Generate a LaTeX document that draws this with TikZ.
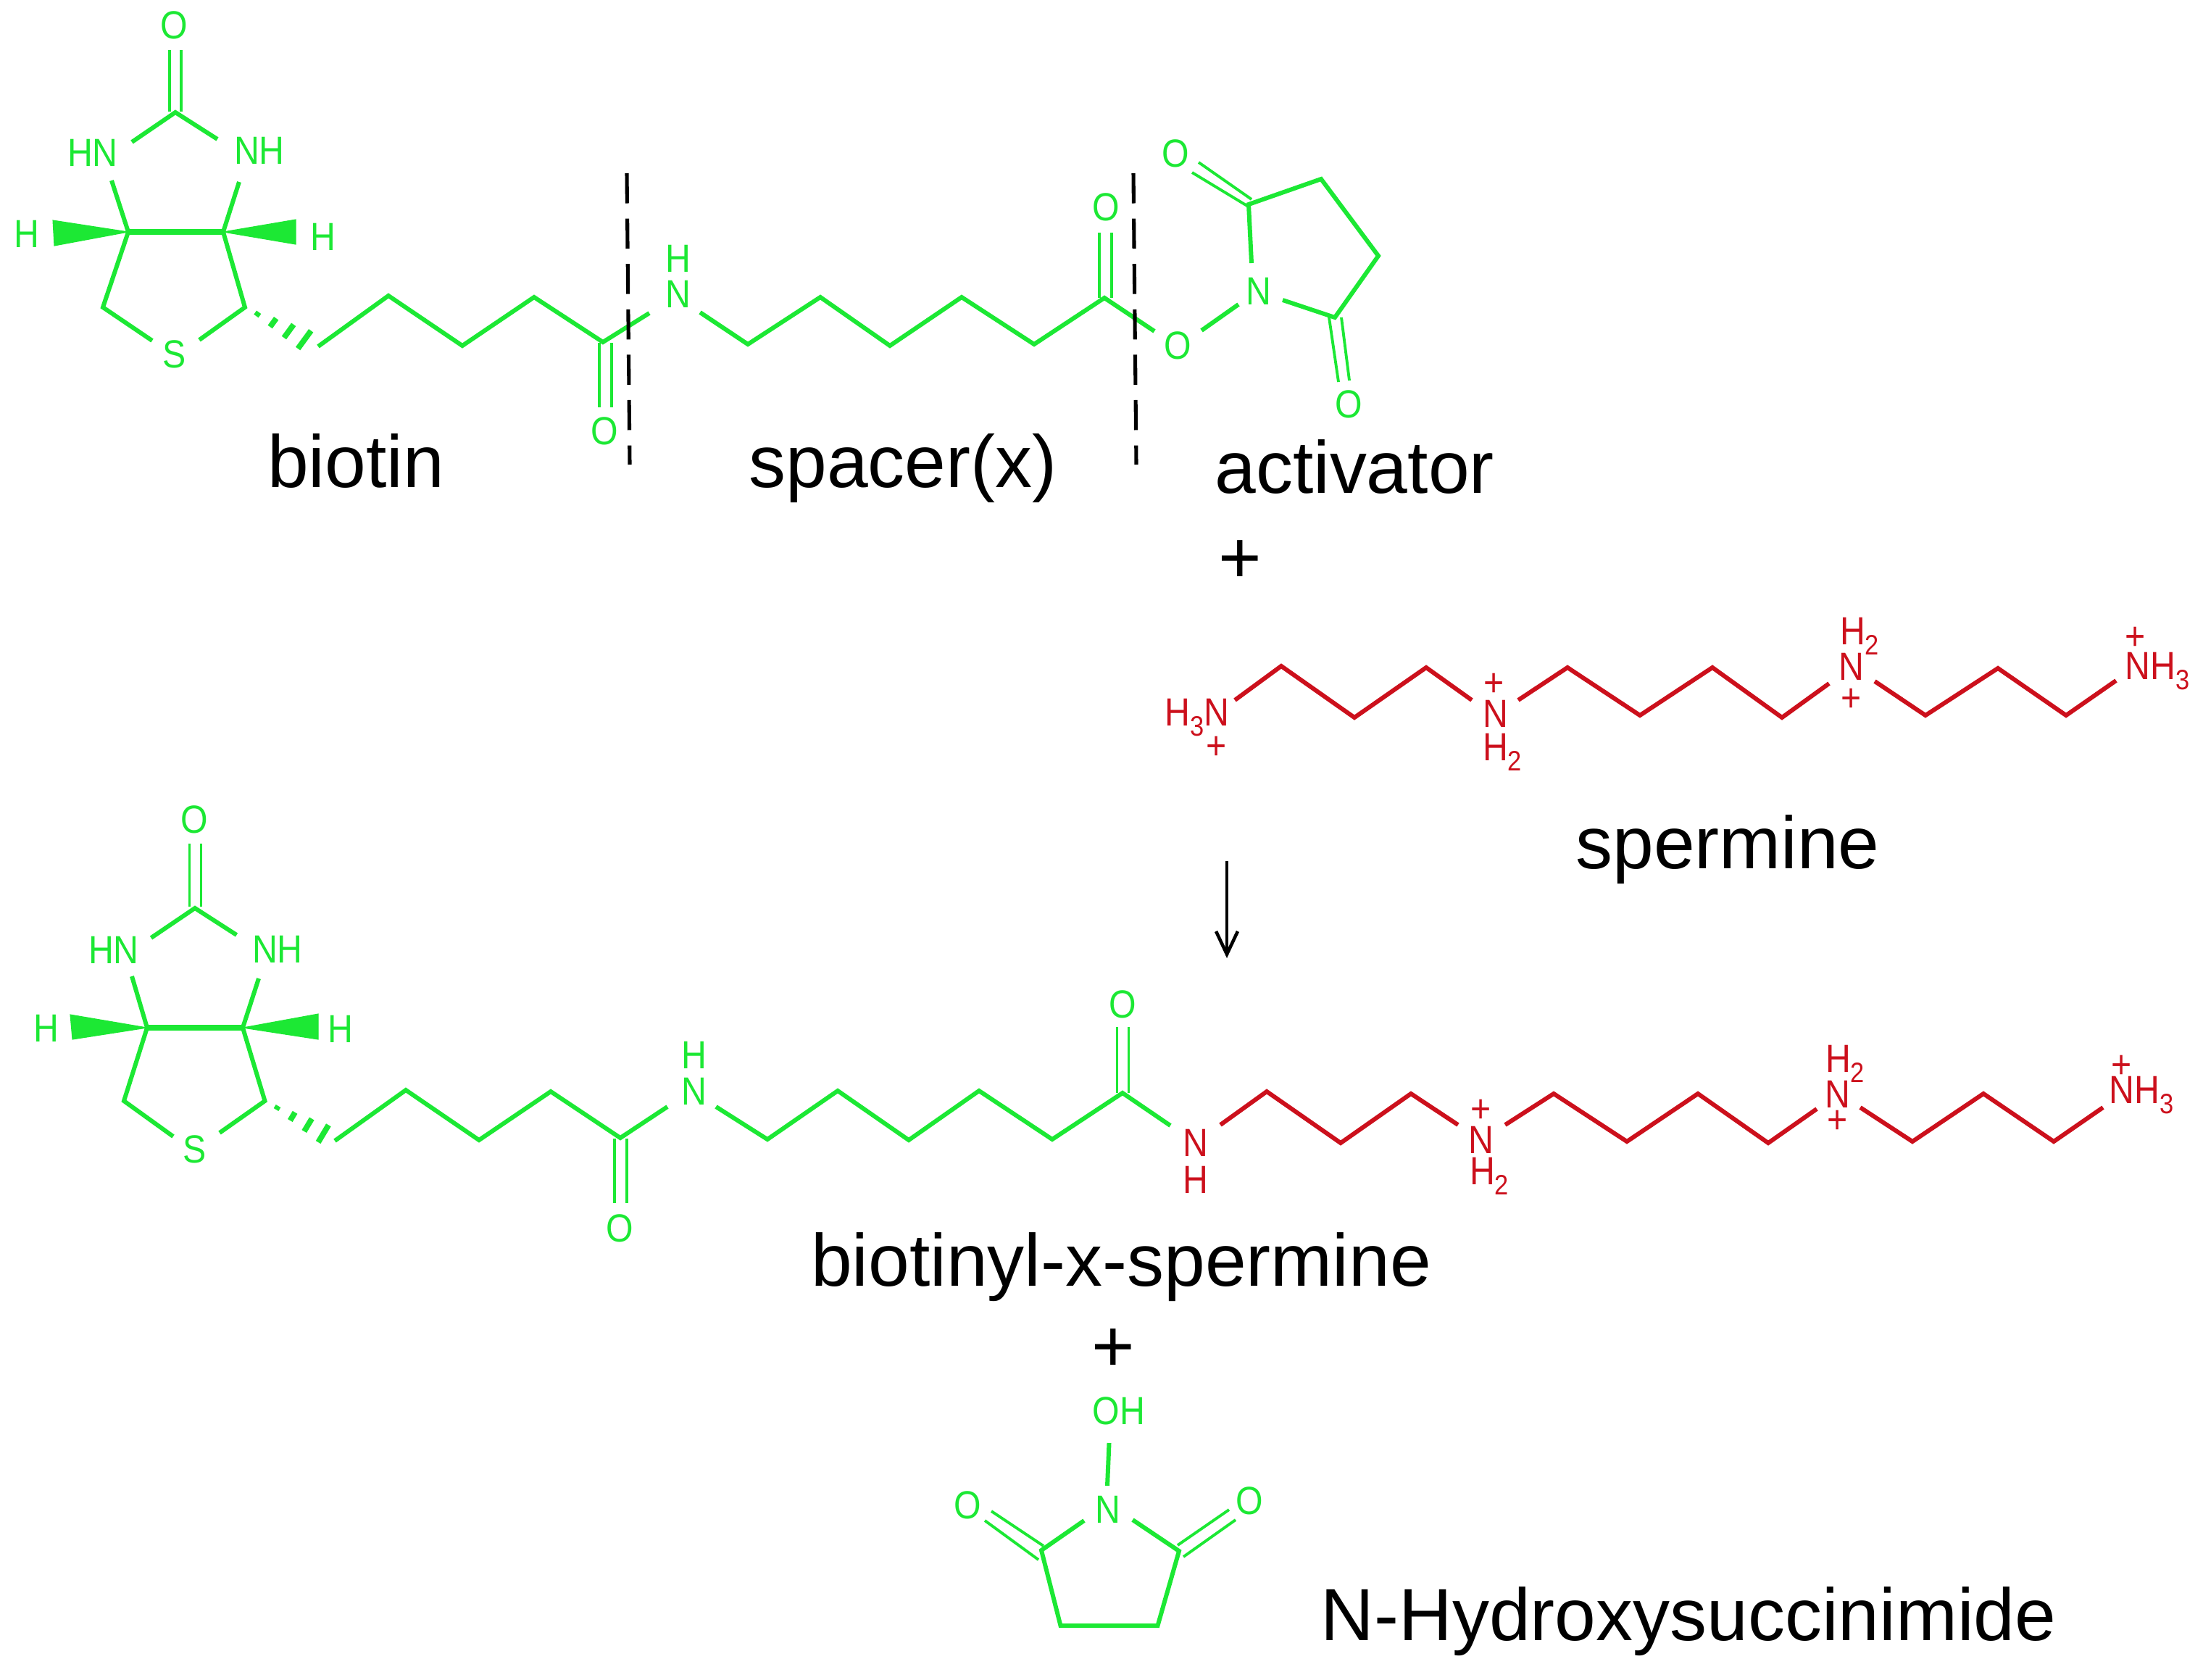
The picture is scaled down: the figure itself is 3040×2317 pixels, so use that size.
\documentclass[tikz,border=0pt]{standalone}
\usepackage{fontspec}
\setmainfont{Liberation Sans}
\usetikzlibrary{calc,arrows.meta}
\definecolor{grn}{RGB}{28,232,52}
\definecolor{rd}{RGB}{204,16,28}
\newcommand{\subn}[1]{\raisebox{-0.25em}{\fontsize{10}{10}\selectfont #1}}
\tikzset{
  x=0.01cm,y=-0.01cm,
  bond/.style={line width=1.7pt,line join=miter,draw=grn},
  dbl/.style={line width=1.1pt,draw=grn},
  fuse/.style={line width=2.2pt,draw=grn},
  rbond/.style={line width=1.7pt,line join=miter,draw=rd},
  wedgefill/.style={fill=grn,draw=grn,line width=0.3pt},
  hashbar/.style={line width=2.2pt,draw=grn},
  atom/.style={inner sep=0pt,transform shape,xscale=0.98,yscale=1.1,font=\fontsize{14}{14}\selectfont,text=grn},
  ratom/.style={inner sep=0pt,transform shape,xscale=0.98,yscale=1.1,font=\fontsize{14}{14}\selectfont,text=rd},
  captext/.style={inner sep=0pt,anchor=base,font=\fontsize{29}{30}\selectfont,text=black},
  plustext/.style={inner sep=0pt,font=\fontsize{29}{30}\selectfont,text=black},
  cutline/.style={line width=1.45pt,draw=black,dash pattern=on 11.8pt off 6pt},
  rxnarrow/.style={line width=1.3pt,draw=black,-{Straight Barb[length=9pt,width=8.5pt,line width=1.3pt]}}
}
\begin{document}
\begin{tikzpicture}
\useasboundingbox (0,0) rectangle (3040,2317);
% ---------- activated biotin-X: atoms
\coordinate (aC2) at (242,155);
\coordinate (aOa) at (234,69); \coordinate (aOb) at (250,69);
\coordinate (aCa) at (234,154); \coordinate (aCb) at (250,154);
\coordinate (aN1) at (182,196); \coordinate (aN2) at (300,192);
\coordinate (aN1b) at (154,249); \coordinate (aN2b) at (330,251);
\coordinate (aC4) at (177,320); \coordinate (aC5) at (308,320);
\coordinate (aC6) at (142,424); \coordinate (aC7) at (338,424);
\coordinate (aS1) at (210,470); \coordinate (aS2) at (275,469);
\coordinate (aW1) at (73,304); \coordinate (aW2) at (75,339);
\coordinate (aW3) at (408,303); \coordinate (aW4) at (408,337);
\coordinate (aH1) at (434,458); \coordinate (aH2) at (415,484);
\coordinate (ac1) at (439,478); \coordinate (ac2) at (536,408);
\coordinate (ac3) at (638,477); \coordinate (ac4) at (737,410);
\coordinate (ac5) at (832,472); \coordinate (ac6) at (896,432);
\coordinate (aO1a) at (827,473); \coordinate (aO1b) at (827,562);
\coordinate (aO1c) at (844,473); \coordinate (aO1d) at (844,562);
\coordinate (as0) at (966,431); \coordinate (as1) at (1032,475);
\coordinate (as2) at (1132,410); \coordinate (as3) at (1228,477);
\coordinate (as4) at (1327,410); \coordinate (as5) at (1427,475);
\coordinate (as6) at (1524,411); \coordinate (as7) at (1593,457);
\coordinate (aO2a) at (1517,411); \coordinate (aO2b) at (1517,321);
\coordinate (aO2c) at (1534,411); \coordinate (aO2d) at (1534,321);
\coordinate (nO1) at (1658,456); \coordinate (nO2) at (1709,420);
\coordinate (nN1) at (1727,363); \coordinate (nC1) at (1723,282);
\coordinate (nC2) at (1823,247); \coordinate (nC3) at (1902,353);
\coordinate (nC4) at (1842,438); \coordinate (nN2) at (1770,414);
\coordinate (nO3) at (1654,224); \coordinate (nO4) at (1727,275);
\coordinate (nO5) at (1645,238); \coordinate (nO6) at (1721,284);
\coordinate (nO7) at (1834,438); \coordinate (nO8) at (1847,527);
\coordinate (nO9) at (1851,438); \coordinate (nO10) at (1862,525);
% bonds
\draw[dbl] (aOa) -- (aCa); \draw[dbl] (aOb) -- (aCb);
\draw[bond] (aN1) -- (aC2) -- (aN2);
\draw[bond] (aN1b) -- (aC4) -- (aC6) -- (aS1);
\draw[bond] (aN2b) -- (aC5) -- (aC7) -- (aS2);
\draw[fuse] (aC4) -- (aC5);
\fill[wedgefill] (aC4) -- (aW1) -- (aW2) -- cycle;
\fill[wedgefill] (aC5) -- (aW3) -- (aW4) -- cycle;
\foreach \t in {0.2,0.45,0.7,0.95}
  \draw[hashbar] ($(aC7)!\t!(aH1)$) -- ($(aC7)!\t!(aH2)$);
\draw[bond] (ac1) -- (ac2) -- (ac3) -- (ac4) -- (ac5) -- (ac6);
\draw[dbl] (aO1a) -- (aO1b); \draw[dbl] (aO1c) -- (aO1d);
\draw[bond] (as0) -- (as1) -- (as2) -- (as3) -- (as4) -- (as5) -- (as6) -- (as7);
\draw[dbl] (aO2a) -- (aO2b); \draw[dbl] (aO2c) -- (aO2d);
\draw[bond] (nO1) -- (nO2);
\draw[bond] (nN1) -- (nC1) -- (nC2) -- (nC3) -- (nC4) -- (nN2);
\draw[dbl] (nO3) -- (nO4); \draw[dbl] (nO5) -- (nO6);
\draw[dbl] (nO7) -- (nO8); \draw[dbl] (nO9) -- (nO10);
% labels
\node[atom] (lO1) at (240,35) {O};
\node[atom] (lHN) at (128,211) {HN};
\node[atom] (lNH) at (358,208) {NH};
\node[atom] (lH1) at (37,323) {H};
\node[atom] (lH2) at (446,327) {H};
\node[atom] (lS) at (241,489) {S};
\node[atom] (lO2) at (834,595) {O};
\node[atom] (lN) at (936,406) {N};
\node[atom] (lNH2) at (936,357) {H};
\node[atom] (lO3) at (1526,286) {O};
\node[atom] (lO4) at (1625,477) {O};
\node[atom] (lN2) at (1737,402) {N};
\node[atom] (lO5) at (1622,212) {O};
\node[atom] (lO6) at (1861,558) {O};
% cut lines
\coordinate (cut1a) at (865,239); \coordinate (cut1b) at (869,641);
\coordinate (cut2a) at (1564,239); \coordinate (cut2b) at (1568,641);
\draw[cutline] (cut1a) -- (cut1b);
\draw[cutline] (cut2a) -- (cut2b);
% captions
\node[captext] (tbiotin) at (491,672) {biotin};
\node[captext] (tspacer) at (1246,672) {spacer(x)};
\node[captext] (tactiv) at (1869,680) {activator};
\node[plustext] (plus1) at (1711,775) {+};
% ---------- spermine
\coordinate (sa) at (1704,966); \coordinate (sb) at (1768,919);
\coordinate (sc) at (1869,990); \coordinate (sd) at (1968,921);
\coordinate (se) at (2031,966); \coordinate (sf) at (2095,966);
\coordinate (sg) at (2163,921); \coordinate (sh) at (2263,987);
\coordinate (si) at (2363,921); \coordinate (sj) at (2459,990);
\coordinate (sk) at (2524,943); \coordinate (sl) at (2587,940);
\coordinate (sm) at (2657,987); \coordinate (sn) at (2757,922);
\coordinate (so) at (2851,987); \coordinate (sp) at (2920,939);
\draw[rbond] (sa) -- (sb) -- (sc) -- (sd) -- (se);
\draw[rbond] (sf) -- (sg) -- (sh) -- (si) -- (sj) -- (sk);
\draw[rbond] (sl) -- (sm) -- (sn) -- (so) -- (sp);
\node[ratom] (rH3N) at (1652,990) {H\subn{3}N};
\node[ratom] (rp1) at (1679,1032) {+};
\node[ratom] (rp2) at (2062,945) {+};
\node[ratom] (rN2) at (2064,985) {N};
\node[ratom] (rH2) at (2073,1038) {H\subn{2}};
\node[ratom] (rH3) at (2566,878) {H\subn{2}};
\node[ratom] (rN3) at (2555,920) {N};
\node[ratom] (rp3) at (2555,966) {+};
\node[ratom] (rp4) at (2947,881) {+};
\node[ratom] (rNH3) at (2977,926) {NH\subn{3}};
\node[captext] (tsperm) at (2384,1198) {spermine};
% reaction arrow
\coordinate (ar1) at (1693,1188); \coordinate (ar2) at (1693,1322);
\draw[rxnarrow] (ar1) -- (ar2);
% ---------- biotinyl-x-spermine
\coordinate (bC2) at (269,1253);
\coordinate (bOa) at (261.5,1164); \coordinate (bOb) at (277.5,1164);
\coordinate (bCa) at (261.5,1251); \coordinate (bCb) at (277.5,1251);
\coordinate (bN1) at (208.5,1294); \coordinate (bN2) at (326.5,1290);
\coordinate (bN1b) at (182,1347); \coordinate (bN2b) at (357,1350);
\coordinate (bC4) at (203,1418); \coordinate (bC5) at (335,1418);
\coordinate (bC6) at (171,1519); \coordinate (bC7) at (365.5,1519);
\coordinate (bS1) at (239,1568); \coordinate (bS2) at (303,1563);
\coordinate (bW1) at (97,1400); \coordinate (bW2) at (100,1434);
\coordinate (bW3) at (439,1399); \coordinate (bW4) at (439,1434);
\coordinate (bH1) at (458,1554); \coordinate (bH2) at (443,1579);
\coordinate (bc1) at (462,1574); \coordinate (bc2) at (560,1504);
\coordinate (bc3) at (661,1573); \coordinate (bc4) at (760,1506);
\coordinate (bc5) at (856,1570); \coordinate (bc6) at (921,1527);
\coordinate (bO1a) at (848,1571); \coordinate (bO1b) at (848,1660);
\coordinate (bO1c) at (865,1571); \coordinate (bO1d) at (865,1660);
\coordinate (bs0) at (988,1527); \coordinate (bs1) at (1059,1572);
\coordinate (bs2) at (1156,1505); \coordinate (bs3) at (1254,1573);
\coordinate (bs4) at (1351,1505); \coordinate (bs5) at (1452,1572);
\coordinate (bs6) at (1549,1508); \coordinate (bs7) at (1615,1553);
\coordinate (bO2a) at (1541.5,1508); \coordinate (bO2b) at (1541.5,1417);
\coordinate (bO2c) at (1557.5,1508); \coordinate (bO2d) at (1557.5,1417);
\coordinate (ba) at (1684,1552); \coordinate (bb) at (1748,1506);
\coordinate (bcc) at (1850,1577); \coordinate (bd) at (1947,1509);
\coordinate (be) at (2012,1552); \coordinate (bf) at (2077,1552);
\coordinate (bg) at (2144,1509); \coordinate (bh) at (2245,1575);
\coordinate (bi) at (2343,1509); \coordinate (bj) at (2440,1577);
\coordinate (bk) at (2507,1530); \coordinate (bl) at (2567,1528);
\coordinate (bm) at (2639,1575); \coordinate (bn) at (2737,1509);
\coordinate (bo) at (2834,1575); \coordinate (bp) at (2902,1528);
\draw[dbl] (bOa) -- (bCa); \draw[dbl] (bOb) -- (bCb);
\draw[bond] (bN1) -- (bC2) -- (bN2);
\draw[bond] (bN1b) -- (bC4) -- (bC6) -- (bS1);
\draw[bond] (bN2b) -- (bC5) -- (bC7) -- (bS2);
\draw[fuse] (bC4) -- (bC5);
\fill[wedgefill] (bC4) -- (bW1) -- (bW2) -- cycle;
\fill[wedgefill] (bC5) -- (bW3) -- (bW4) -- cycle;
\foreach \t in {0.2,0.45,0.7,0.95}
  \draw[hashbar] ($(bC7)!\t!(bH1)$) -- ($(bC7)!\t!(bH2)$);
\draw[bond] (bc1) -- (bc2) -- (bc3) -- (bc4) -- (bc5) -- (bc6);
\draw[dbl] (bO1a) -- (bO1b); \draw[dbl] (bO1c) -- (bO1d);
\draw[bond] (bs0) -- (bs1) -- (bs2) -- (bs3) -- (bs4) -- (bs5) -- (bs6) -- (bs7);
\draw[dbl] (bO2a) -- (bO2b); \draw[dbl] (bO2c) -- (bO2d);
\draw[rbond] (ba) -- (bb) -- (bcc) -- (bd) -- (be);
\draw[rbond] (bf) -- (bg) -- (bh) -- (bi) -- (bj) -- (bk);
\draw[rbond] (bl) -- (bm) -- (bn) -- (bo) -- (bp);
\node[atom] (mO1) at (268,1131) {O};
\node[atom] (mHN) at (157,1311) {HN};
\node[atom] (mNH) at (383,1310) {NH};
\node[atom] (mH1) at (64,1419) {H};
\node[atom] (mH2) at (470,1420) {H};
\node[atom] (mS) at (269,1586) {S};
\node[atom] (mO2) at (855,1695) {O};
\node[atom] (mN) at (958,1506) {N};
\node[atom] (mNH2) at (958,1456) {H};
\node[atom] (mO3) at (1549,1386) {O};
\node[ratom] (mN3) at (1650,1577) {N};
\node[ratom] (mH3) at (1650,1628) {H};
\node[ratom] (mp1) at (2044,1533) {+};
\node[ratom] (mN4) at (2044,1573) {N};
\node[ratom] (mH4) at (2055,1623) {H\subn{2}};
\node[ratom] (mH5) at (2546,1468) {H\subn{2}};
\node[ratom] (mN5) at (2536,1510) {N};
\node[ratom] (mp2) at (2536,1548) {+};
\node[ratom] (mp3) at (2928,1472) {+};
\node[ratom] (mNH3) at (2955,1511) {NH\subn{3}};
\node[captext] (tbxs) at (1547,1774) {biotinyl-x-spermine};
\node[plustext] (plus2) at (1536,1863) {+};
% ---------- N-hydroxysuccinimide
\coordinate (hO) at (1530.5,1991); \coordinate (hN) at (1528,2050);
\coordinate (hL) at (1496,2098); \coordinate (hR) at (1563,2097);
\coordinate (hC1) at (1437,2139); \coordinate (hC2) at (1627,2140);
\coordinate (hC3) at (1463.5,2243); \coordinate (hC4) at (1597.5,2243);
\coordinate (hA1) at (1368,2085); \coordinate (hA2) at (1440,2133);
\coordinate (hA3) at (1359,2098); \coordinate (hA4) at (1433,2152);
\coordinate (hB1) at (1696,2083); \coordinate (hB2) at (1625,2132);
\coordinate (hB3) at (1705,2097); \coordinate (hB4) at (1633,2148);
\draw[bond] (hO) -- (hN);
\draw[bond] (hL) -- (hC1) -- (hC3) -- (hC4) -- (hC2) -- (hR);
\draw[dbl] (hA1) -- (hA2); \draw[dbl] (hA3) -- (hA4);
\draw[dbl] (hB1) -- (hB2); \draw[dbl] (hB3) -- (hB4);
\node[atom] (oOH) at (1544,1947) {OH};
\node[atom] (oN) at (1529,2083) {N};
\node[atom] (oO1) at (1335,2077) {O};
\node[atom] (oO2) at (1724,2071) {O};
\node[captext] (tnhs) at (2330,2263) {N-Hydroxysuccinimide};
\end{tikzpicture}
\end{document}
